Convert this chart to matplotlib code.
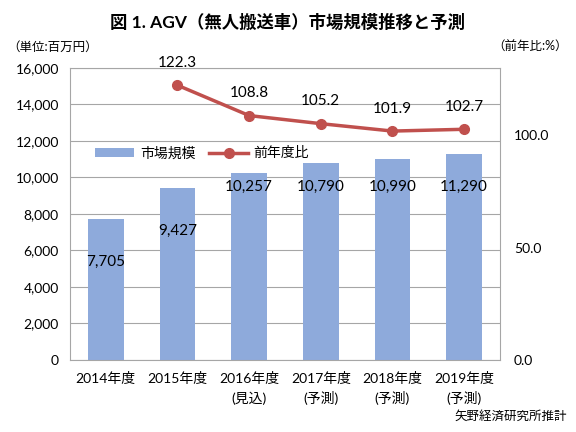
import numpy as np
import matplotlib.pyplot as plt

plt.rcParams['font.family'] = ['Lato', 'Noto Sans CJK JP', 'DejaVu Sans']

# data
years = ['2014年度', '2015年度', '2016年度\n(見込)', '2017年度\n(予測)', '2018年度\n(予測)', '2019年度\n(予測)']
market = [7705, 9427, 10257, 10790, 10990, 11290]
ratio = [None, 122.3, 108.8, 105.2, 101.9, 102.7]

bar_color = '#8EAADB'
line_color = '#C0504D'

fig = plt.figure(figsize=(5.76, 4.32), dpi=100)
ax = fig.add_axes([0.1215, 0.1667, 0.7465, 0.676])
x = np.arange(len(years))

ax.bar(x, market, width=0.5, color=bar_color, label='市場規模', zorder=2)
ax.set_ylim(0, 16000)
ax.set_xlim(-0.5, len(years) - 0.5)
ax.set_yticks(np.arange(0, 16001, 2000))
ax.set_yticklabels([f'{v:,}' for v in range(0, 16001, 2000)], fontsize=10)
ax.yaxis.grid(True, color='#A6A6A6', linewidth=0.8, zorder=0)
ax.set_axisbelow(True)
ax.tick_params(axis='y', length=0, pad=8)
ax.tick_params(axis='x', length=0, pad=9)
ax.set_xticks(x)
ax.set_xticklabels(years, fontsize=10, linespacing=1.5)
for s in ax.spines.values():
    s.set_color('#A6A6A6')
    s.set_linewidth(0.8)

# bar value labels
for xi, v in zip(x, market):
    ly = v - 2350 if v < 10000 else 9480
    ax.text(xi, ly, f'{v:,}', ha='center', va='center', fontsize=11)

ax2 = ax.twinx()
ax2.set_ylim(0, 130)
ax2.set_yticks([0, 50, 100])
ax2.set_yticklabels(['0.0', '50.0', '100.0'], fontsize=10)
ax2.tick_params(axis='y', length=0, pad=10)
for s in ax2.spines.values():
    s.set_visible(False)

rx = [xi for xi, r in zip(x, ratio) if r is not None]
ry = [r for r in ratio if r is not None]
ax2.plot(rx, ry, color=line_color, linewidth=2.5, marker='o', markersize=7,
         label='前年度比', zorder=3)
for xi, r in zip(rx, ry):
    ax2.annotate(f'{r:.1f}', (xi, r), xytext=(0, 11), textcoords='offset points',
                 ha='center', va='bottom', fontsize=11)

h1, l1 = ax.get_legend_handles_labels()
h2, l2 = ax2.get_legend_handles_labels()
ax.legend(h1 + h2, l1 + l2, loc='upper left', bbox_to_anchor=(0.03, 0.775),
          ncol=2, frameon=False, fontsize=10, handlelength=2.8,
          columnspacing=1.0, handletextpad=0.4)

fig.text(0.5, 0.948, '図 1. AGV（無人搬送車）市場規模推移と予測', ha='center', va='center',
         fontsize=12.5, fontweight='bold')
fig.text(0.012, 0.892, '（単位:百万円）', ha='left', va='center', fontsize=9)
fig.text(0.985, 0.892, '（前年比:%）', ha='right', va='center', fontsize=9)
fig.text(0.985, 0.037, '矢野経済研究所推計', ha='right', va='center', fontsize=9)

fig.savefig('out.png', dpi=100)
